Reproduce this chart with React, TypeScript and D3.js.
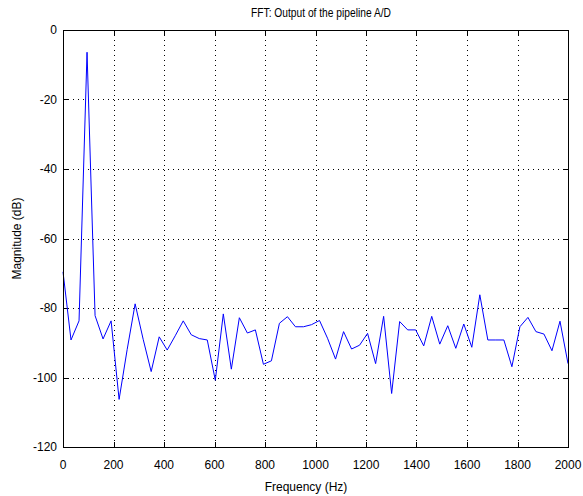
import React from "react";
import * as d3 from "d3";

const freqs = [
  0, 31.7, 63.5, 95.2, 127, 158.7, 190.5, 222.2, 254, 285.7, 317.5, 349.2, 381, 412.7, 444.4, 476.2,
  507.9, 539.7, 571.4, 603.2, 634.9, 666.7, 698.4, 730.2, 761.9, 793.7, 825.4, 857.1, 888.9, 920.6, 952.4, 984.1,
  1015.9, 1047.6, 1079.4, 1111.1, 1142.9, 1174.6, 1206.3, 1238.1, 1269.8, 1301.6, 1333.3, 1365.1, 1396.8, 1428.6, 1460.3, 1492.1,
  1523.8, 1555.6, 1587.3, 1619, 1650.8, 1682.5, 1714.3, 1746, 1777.8, 1809.5, 1841.3, 1873, 1904.8, 1936.5, 1968.3, 2000,
];

const magnitudes = [
  -69.6, -89.2, -83.7, -6.4, -82.2, -88.9, -83.7, -106.3, -92, -78.8, -89, -98.3, -88.3, -92.1, -88, -83.7,
  -87.7, -88.8, -89.2, -100.8, -81.7, -97.6, -82.8, -87.2, -86.3, -96.2, -95.2, -84.4, -82.5, -85.4, -85.4, -84.8,
  -83.6, -88.7, -94.7, -86.8, -91.8, -90.7, -87.3, -96, -82.4, -104.6, -83.9, -86.3, -86.3, -90.9, -82.4, -90.4,
  -85.1, -91.6, -84.6, -91.3, -76.2, -89.2, -89.2, -89.2, -96.9, -85.4, -82.7, -86.8, -87.5, -92.3, -83.8, -96,
];

const xTicks = [0, 200, 400, 600, 800, 1000, 1200, 1400, 1600, 1800, 2000];
const yTicks = [0, -20, -40, -60, -80, -100, -120];

const title = "FFT: Output of the pipeline A/D";
const xLabel = "Frequency (Hz)";
const yLabel = "Magnitude (dB)";

export default function App() {
  const W = 583;
  const H = 496;
  const left = 63;
  const right = 568;
  const top = 30;
  const bottom = 447;

  const x = d3.scaleLinear().domain([0, 2000]).range([left, right]);
  const y = d3.scaleLinear().domain([-120, 0]).range([bottom, top]);

  const line = d3
    .line<number>()
    .x((_, i) => x(freqs[i]))
    .y((d) => y(d));

  const font = "'Liberation Sans', Arial, Helvetica, sans-serif";
  const tickLen = 5;

  return (
    <svg
      width={W}
      height={H}
      style={{ position: "absolute", left: 0, top: 0, background: "#fff" }}
      fontFamily={font}
    >
      <rect x={0} y={0} width={W} height={H} fill="#fff" />
      {xTicks.slice(1, -1).map((t) => (
        <line
          key={"gx" + t}
          x1={Math.round(x(t)) + 0.5}
          x2={Math.round(x(t)) + 0.5}
          y1={top}
          y2={bottom}
          stroke="#000"
          strokeWidth={1}
          strokeDasharray="1,4"
        />
      ))}
      {yTicks.slice(1, -1).map((t) => (
        <line
          key={"gy" + t}
          x1={left}
          x2={right}
          y1={Math.round(y(t)) + 0.5}
          y2={Math.round(y(t)) + 0.5}
          stroke="#000"
          strokeWidth={1}
          strokeDasharray="1,4"
        />
      ))}
      {xTicks.map((t) => (
        <g key={"tx" + t}>
          <line x1={Math.round(x(t)) + 0.5} x2={Math.round(x(t)) + 0.5} y1={bottom} y2={bottom - tickLen} stroke="#000" />
          <line x1={Math.round(x(t)) + 0.5} x2={Math.round(x(t)) + 0.5} y1={top} y2={top + tickLen} stroke="#000" />
          <text x={x(t)} y={469} fontSize={12} textAnchor="middle" fill="#000">
            {t}
          </text>
        </g>
      ))}
      {yTicks.map((t) => (
        <g key={"ty" + t}>
          <line x1={left} x2={left + tickLen} y1={Math.round(y(t)) + 0.5} y2={Math.round(y(t)) + 0.5} stroke="#000" />
          <line x1={right} x2={right - tickLen} y1={Math.round(y(t)) + 0.5} y2={Math.round(y(t)) + 0.5} stroke="#000" />
          <text x={57} y={y(t) + 4} fontSize={12} textAnchor="end" fill="#000">
            {t}
          </text>
        </g>
      ))}
      <path d={line(magnitudes) || ""} fill="none" stroke="#0000ff" strokeWidth={1} />
      <rect x={left + 0.5} y={top + 0.5} width={right - left} height={bottom - top} fill="none" stroke="#000" strokeWidth={1} />
      <text
        x={321}
        y={17}
        fontSize={12}
        textAnchor="middle"
        fill="#000"
        textLength={140}
        lengthAdjust="spacingAndGlyphs"
      >
        {title}
      </text>
      <text x={306} y={491} fontSize={12} textAnchor="middle" fill="#000">
        {xLabel}
      </text>
      <text
        transform={`translate(21, ${(top + bottom) / 2}) rotate(-90)`}
        fontSize={12}
        textAnchor="middle"
        fill="#000"
      >
        {yLabel}
      </text>
    </svg>
  );
}
